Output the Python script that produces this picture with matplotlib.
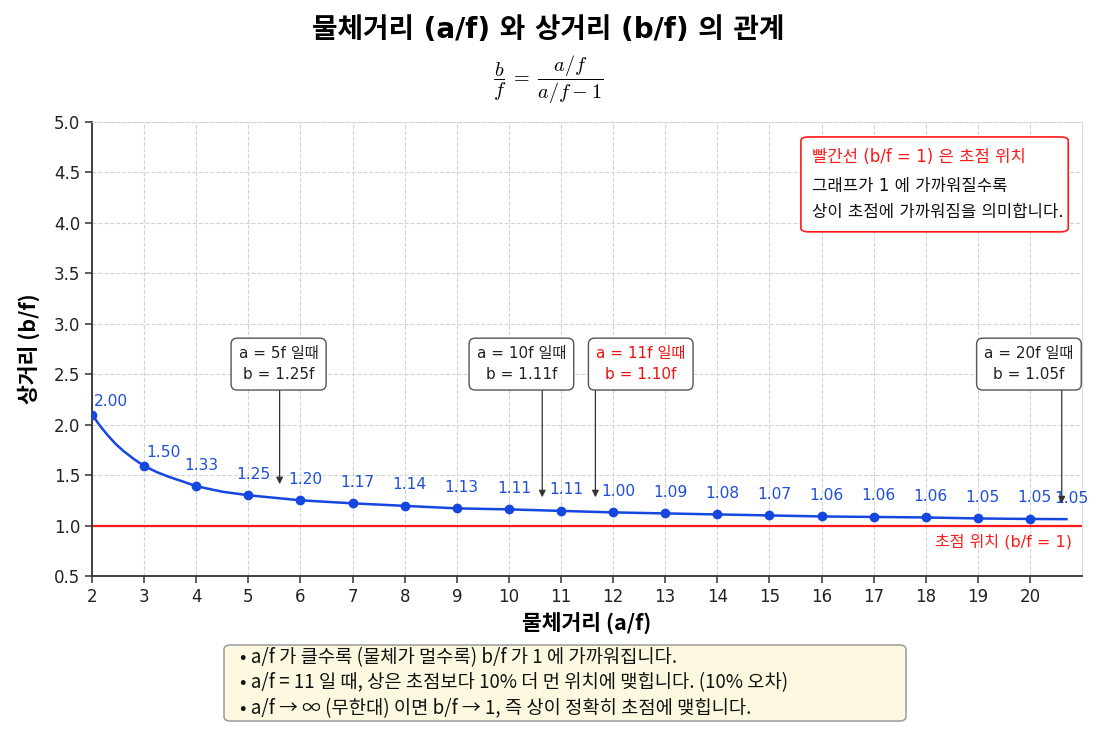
import numpy as np
import matplotlib
matplotlib.use("Agg")
import matplotlib.pyplot as plt
from matplotlib.patches import FancyBboxPatch

plt.rcParams['font.family'] = ['DejaVu Sans', 'Noto Sans CJK KR']
plt.rcParams['mathtext.fontset'] = 'cm'
plt.rcParams['axes.unicode_minus'] = False

KR = ['Noto Sans CJK KR', 'DejaVu Sans']

# values
a_f = [2, 3, 4, 5, 6, 7, 8, 9, 10, 11, 12, 13, 14, 15, 16, 17, 18, 19, 20]
b_f = [2.10, 1.59, 1.39, 1.30, 1.25, 1.22, 1.195, 1.17, 1.16, 1.145,
       1.13, 1.12, 1.11, 1.10, 1.09, 1.085, 1.08, 1.07, 1.065]
# extra points on the drawn curve
curve_x = [2, 2.15, 2.3, 2.45, 2.6, 2.8, 3, 3.25, 3.5, 3.75, 4, 4.5, 5, 6, 7,
           8, 9, 10, 11, 12, 13, 14, 15, 16, 17, 18, 19, 20, 20.7]
curve_y = [2.10, 1.99, 1.895, 1.81, 1.74, 1.66, 1.59, 1.528, 1.478, 1.435,
           1.39, 1.335, 1.30, 1.25, 1.22, 1.195, 1.17, 1.16, 1.145, 1.13,
           1.12, 1.11, 1.10, 1.09, 1.085, 1.08, 1.07, 1.065, 1.063]
value_labels = ["2.00", "1.50", "1.33", "1.25", "1.20", "1.17", "1.14", "1.13",
                "1.11", "1.11", "1.00", "1.09", "1.08", "1.07", "1.06", "1.06",
                "1.06", "1.05", "1.05", "1.05"]

xticks = list(range(2, 21))
yticks = [0.5, 1.0, 1.5, 2.0, 2.5, 3.0, 3.5, 4.0, 4.5, 5.0]

# callout boxes: text, box centre, arrow tip, text colour
callouts = [
    ("a = 5f 일때\nb = 1.25f", (5.58, 2.60), (5.60, 1.41), '#222222'),
    ("a = 10f 일때\nb = 1.11f", (10.24, 2.60), (10.64, 1.28), '#222222'),
    ("a = 11f 일때\nb = 1.10f", (12.53, 2.60), (11.66, 1.28), '#ee1111'),
    ("a = 20f 일때\nb = 1.05f", (19.98, 2.60), (20.61, 1.22), '#222222'),
]
box_bottom = 2.34

notes = ["• a/f 가 클수록 (물체가 멀수록) b/f 가 1 에 가까워집니다.",
         "• a/f = 11 일 때, 상은 초점보다 10% 더 먼 위치에 맺힙니다. (10% 오차)",
         "• a/f → ∞ (무한대) 이면 b/f → 1, 즉 상이 정확히 초점에 맺힙니다."]

blue = '#1446e0'
red = '#ff1a1a'

fig = plt.figure(figsize=(10.97, 7.37), dpi=100, facecolor='white')
ax = fig.add_axes([0.0839, 0.2185, 0.9025, 0.616])

ax.grid(True, linestyle='--', linewidth=0.8, color='#d4d4d4')
ax.set_axisbelow(True)
for s in ['top', 'right']:
    ax.spines[s].set_linestyle('--')
    ax.spines[s].set_color('#d4d4d4')
    ax.spines[s].set_linewidth(0.8)
for s in ['left', 'bottom']:
    ax.spines[s].set_color('#333333')
    ax.spines[s].set_linewidth(1.3)

ax.axhline(1.0, color=red, linewidth=1.6, zorder=2)
ax.text(20.8, 0.84, "초점 위치 (b/f = 1)", color=red, fontsize=11.5,
        ha='right', va='center')

ax.plot(curve_x, curve_y, color=blue, linewidth=1.8, zorder=3)
ax.plot(a_f, b_f, 'o', color=blue, markersize=6, zorder=4)

label_x = a_f + [curve_x[-1]]
label_y = b_f + [curve_y[-1]]
for i, (lx, ly, s) in enumerate(zip(label_x, label_y, value_labels)):
    off = (19, 13) if i < 2 else (5, 21)
    ax.annotate(s, (lx, ly), xytext=off, textcoords='offset pixels',
                ha='center', va='center', color='#1f4fd8', fontsize=11.2, zorder=5)

for txt, (bx, by), (tx, ty), col in callouts:
    ax.text(bx, by, txt, ha='center', va='center', color=col, fontsize=11,
            linespacing=1.55, zorder=6,
            bbox=dict(boxstyle='round,pad=0.5,rounding_size=0.4', fc='white',
                      ec='#555555', lw=1.0))
    ax.annotate('', xy=(tx, ty), xytext=(tx, box_bottom),
                arrowprops=dict(arrowstyle='-|>', color='#333333', lw=0.9,
                                mutation_scale=10, shrinkA=0, shrinkB=0),
                zorder=5)

# info box, top right
ax.add_patch(FancyBboxPatch((0.716, 0.758), 0.270, 0.209,
                            boxstyle='round,pad=0,rounding_size=0.008',
                            transform=ax.transAxes, fc='white', ec=red,
                            lw=1.2, zorder=6))
ax.text(0.727, 0.923, "빨간선 (b/f = 1) 은 초점 위치", transform=ax.transAxes,
        color=red, fontsize=12, va='center', ha='left', zorder=7)
ax.text(0.727, 0.859, "그래프가 1 에 가까워질수록", transform=ax.transAxes,
        color='#111111', fontsize=12, va='center', ha='left', zorder=7)
ax.text(0.727, 0.802, "상이 초점에 가까워짐을 의미합니다.", transform=ax.transAxes,
        color='#111111', fontsize=12, va='center', ha='left', zorder=7)

ax.set_xlim(2, 21)
ax.set_ylim(0.5, 5.0)
ax.set_xticks(xticks)
ax.set_yticks(yticks)
ax.set_yticklabels([f"{v:.1f}" for v in yticks])
ax.tick_params(axis='both', labelsize=12, length=5, width=1.1,
               color='#333333', labelcolor='#222222')

ax.set_xlabel("물체거리 (a/f)", fontsize=15.5, fontweight='bold', family=KR,
              labelpad=4)
ax.set_ylabel("상거리 (b/f)", fontsize=15.5, fontweight='bold', family=KR,
              labelpad=10)

fig.text(0.5, 1 - 30 / 737, "물체거리 (a/f) 와 상거리 (b/f) 의 관계", ha='center',
         va='center', fontsize=20, fontweight='bold',
         family=['DejaVu Sans', 'Noto Sans CJK KR'])
fig.text(0.4994, 1 - 80 / 737, r"$\dfrac{b}{f}\;=\;\dfrac{a/f}{a/f - 1}$",
         ha='center', va='center', fontsize=14.5)

# notes box at the bottom
fig.patches.append(FancyBboxPatch((224 / 1097, 1 - 721 / 737), 682 / 1097, 76 / 737,
                                  boxstyle='round,pad=0,rounding_size=0.006',
                                  transform=fig.transFigure, fc='#fdf9e0',
                                  ec='#9a9a9a', lw=1.1, figure=fig))
fig.text(240 / 1097, 1 - 683 / 737, "\n".join(notes), ha='left', va='center',
         fontsize=13.5, family=KR, linespacing=1.3, color='#111111')

fig.savefig("out.png", dpi=100, facecolor='white')
